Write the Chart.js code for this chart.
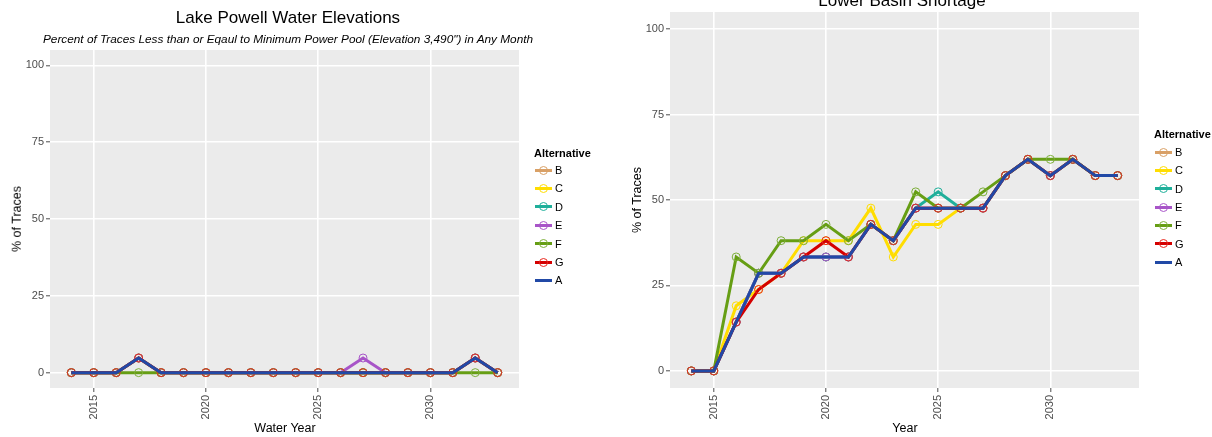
<!DOCTYPE html>
<html>
<head>
<meta charset="utf-8">
<script src="https://cdn.jsdelivr.net/npm/chart.js@4.4.0/dist/chart.umd.min.js"></script>
<style>
  body { margin: 0; background: #fff; font-family: "Liberation Sans", Arial, sans-serif; }
  #wrap { position: relative; width: 1212px; height: 437px; overflow: hidden; }
  canvas { position: absolute; top: 0; }
  .t { position: absolute; white-space: nowrap; color: #000; transform: translate(-50%, -50%); line-height: 1; }
  .rot { transform: translate(-50%, -50%) rotate(-90deg); }
  .leg { position: absolute; font-size: 11px; color: #000; line-height: 14px; white-space: nowrap; }
  .leg.hd { font-weight: bold; }
  .sw { position: relative; display: inline-block; width: 17px; height: 10px; margin-right: 3px; vertical-align: -1px; }
  .sw i { position: absolute; left: 0; right: 0; top: 3.5px; height: 3px; }
  .sw b { position: absolute; left: 4px; top: 0.5px; border: 1px solid; border-radius: 50%; box-sizing: border-box; width: 9px; height: 9px; }
</style>
</head>
<body>
<div id="wrap">
  <canvas id="powell" width="600" height="437" style="left:0"></canvas>
  <canvas id="shortage" width="612" height="437" style="left:600px"></canvas>

  <div class="t" style="left:288px; top:17px; font-size:17px">Lake Powell Water Elevations</div>
  <div class="t" style="left:288px; top:40px; font-size:11.8px; font-style:italic">Percent of Traces Less than or Eqaul to Minimum Power Pool (Elevation 3,490") in Any Month</div>
  <div class="t" style="left:285px; top:428px; font-size:12.5px">Water Year</div>
  <div class="t rot" style="left:17px; top:219px; font-size:12.5px">% of Traces</div>

  <div class="t" style="left:902px; top:0px; font-size:17px">Lower Basin Shortage</div>
  <div class="t" style="left:905px; top:428px; font-size:12.5px">Year</div>
  <div class="t rot" style="left:637px; top:200px; font-size:12.5px">% of Traces</div>

  <div id="legPowell"></div>
  <div id="legShortage"></div>
</div>

<script>
// water years / years
const years = [2014, 2015, 2016, 2017, 2018, 2019, 2020, 2021, 2022, 2023,
               2024, 2025, 2026, 2027, 2028, 2029, 2030, 2031, 2032, 2033];
const xTicks = [2015, 2020, 2025, 2030];
const yTicks = [0, 25, 50, 75, 100];

// Lake Powell - % of traces <= minimum power pool
const powellB = [0, 0, 0, 4.76, 0, 0, 0, 0, 0, 0, 0, 0, 0, 0, 0, 0, 0, 0, 4.76, 0];
const powellC = [0, 0, 0, 4.76, 0, 0, 0, 0, 0, 0, 0, 0, 0, 0, 0, 0, 0, 0, 4.76, 0];
const powellD = [0, 0, 0, 4.76, 0, 0, 0, 0, 0, 0, 0, 0, 0, 0, 0, 0, 0, 0, 4.76, 0];
const powellE = [0, 0, 0, 4.76, 0, 0, 0, 0, 0, 0, 0, 0, 0, 4.76, 0, 0, 0, 0, 4.76, 0];
const powellF = [0, 0, 0, 0, 0, 0, 0, 0, 0, 0, 0, 0, 0, 0, 0, 0, 0, 0, 0, 0];
const powellG = [0, 0, 0, 4.76, 0, 0, 0, 0, 0, 0, 0, 0, 0, 0, 0, 0, 0, 0, 4.76, 0];
const powellA = [0, 0, 0, 4.76, 0, 0, 0, 0, 0, 0, 0, 0, 0, 0, 0, 0, 0, 0, 4.76, 0];

// Lower Basin shortage - % of traces
const shortB = [0, 0, 14.29, 28.57, 28.57, 33.33, 33.33, 33.33, 42.86, 38.1, 47.62, 47.62, 47.62, 47.62, 57.14, 61.9, 57.14, 61.9, 57.14, 57.14];
const shortC = [0, 0, 19.05, 23.81, 28.57, 38.1, 38.1, 38.1, 47.62, 33.33, 42.86, 42.86, 47.62, 47.62, 57.14, 61.9, 57.14, 61.9, 57.14, 57.14];
const shortD = [0, 0, 14.29, 28.57, 28.57, 33.33, 33.33, 33.33, 42.86, 38.1, 47.62, 52.38, 47.62, 47.62, 57.14, 61.9, 57.14, 61.9, 57.14, 57.14];
const shortE = [0, 0, 14.29, 28.57, 28.57, 33.33, 33.33, 33.33, 42.86, 38.1, 47.62, 47.62, 47.62, 47.62, 57.14, 61.9, 57.14, 61.9, 57.14, 57.14];
const shortF = [0, 0, 33.33, 28.57, 38.1, 38.1, 42.86, 38.1, 42.86, 38.1, 52.38, 47.62, 47.62, 52.38, 57.14, 61.9, 61.9, 61.9, 57.14, 57.14];
const shortG = [0, 0, 14.29, 23.81, 28.57, 33.33, 38.1, 33.33, 42.86, 38.1, 47.62, 47.62, 47.62, 47.62, 57.14, 61.9, 57.14, 61.9, 57.14, 57.14];
const shortA = [0, 0, 14.29, 28.57, 28.57, 33.33, 33.33, 33.33, 42.86, 38.1, 47.62, 47.62, 47.62, 47.62, 57.14, 61.9, 57.14, 61.9, 57.14, 57.14];

const alternatives = ['B', 'C', 'D', 'E', 'F', 'G', 'A'];
const colors = {
  B: '#D9A066', C: '#FFDD00', D: '#1FAF9A', E: '#A855C8',
  F: '#669E14', G: '#D40000', A: '#2149A6'
};
const pointColors = {
  B: '#D9A066', C: '#FFDD00', D: '#1FAF9A', E: '#A855C8',
  F: '#7DAF3A', G: '#E8281E', A: '#2149A6'
};

// grey panel behind the plot, ggplot style
const panelBg = {
  id: 'panelBg',
  beforeDraw(chart) {
    const { ctx, chartArea: a } = chart;
    ctx.save();
    ctx.fillStyle = '#EBEBEB';
    ctx.fillRect(a.left, a.top, a.right - a.left, a.bottom - a.top);
    ctx.restore();
  }
};

function makeChart(id, seriesMap, pad, yWidth) {
  const datasets = alternatives.map((alt, i) => ({
    label: alt,
    data: years.map((y, j) => ({ x: y, y: seriesMap[alt][j] })),
    borderColor: colors[alt],
    borderWidth: 3,
    pointRadius: alt === 'A' ? 0 : 4,
    pointBorderWidth: 1,
    pointBorderColor: pointColors[alt],
    pointBackgroundColor: 'rgba(0,0,0,0)',
    fill: false,
    tension: 0,
    order: alternatives.length - 1 - i   // A drawn on top
  }));

  return new Chart(document.getElementById(id), {
    type: 'line',
    data: { datasets: datasets },
    options: {
      responsive: false,
      animation: false,
      layout: { padding: pad },
      plugins: { legend: { display: false }, tooltip: { enabled: false } },
      scales: {
        x: {
          type: 'linear',
          min: 2013.05,
          max: 2033.95,
          afterBuildTicks: (axis) => { axis.ticks = xTicks.map(v => ({ value: v })); },
          afterFit: (scale) => { scale.height = 49; },
          ticks: {
            autoSkip: false, minRotation: 90, maxRotation: 90, padding: 3,
            color: '#4D4D4D', font: { size: 11, family: 'Liberation Sans' },
            callback: (v) => String(v)
          },
          grid: { color: '#FFFFFF', lineWidth: 1.6, tickLength: 4, tickColor: '#4D4D4D', tickWidth: 1 },
          border: { display: false }
        },
        y: {
          min: -5,
          max: 105,
          afterBuildTicks: (axis) => { axis.ticks = yTicks.map(v => ({ value: v })); },
          afterFit: (scale) => { scale.width = yWidth; },
          ticks: {
            padding: 2, color: '#4D4D4D', font: { size: 11, family: 'Liberation Sans' },
            callback: (v) => String(v)
          },
          grid: { color: '#FFFFFF', lineWidth: 1.6, tickLength: 4, tickColor: '#4D4D4D', tickWidth: 1 },
          border: { display: false }
        }
      }
    },
    plugins: [panelBg]
  });
}

function makeLegend(elId, x, titleY, firstY, step) {
  const el = document.getElementById(elId);
  let html = '<div class="leg hd" style="left:' + x + 'px; top:' + (titleY - 7) + 'px">Alternative</div>';
  alternatives.forEach((alt, i) => {
    const c = colors[alt];
    const circle = alt === 'A' ? '' : '<b style="border-color:' + pointColors[alt] + '"></b>';
    html += '<div class="leg" style="left:' + (x + 1) + 'px; top:' + (firstY + i * step - 7) + 'px">' +
      '<span class="sw"><i style="background:' + c + '"></i>' + circle + '</span>' + alt + '</div>';
  });
  el.innerHTML = html;
}

makeChart('powell',
  { B: powellB, C: powellC, D: powellD, E: powellE, F: powellF, G: powellG, A: powellA },
  { left: 0, top: 50, right: 81, bottom: 0 }, 50);

makeChart('shortage',
  { B: shortB, C: shortC, D: shortD, E: shortE, F: shortF, G: shortG, A: shortA },
  { left: 0, top: 12, right: 73, bottom: 0 }, 70);

makeLegend('legPowell', 534, 153, 170, 18.4);
makeLegend('legShortage', 1154, 134, 152, 18.35);
</script>
</body>
</html>
